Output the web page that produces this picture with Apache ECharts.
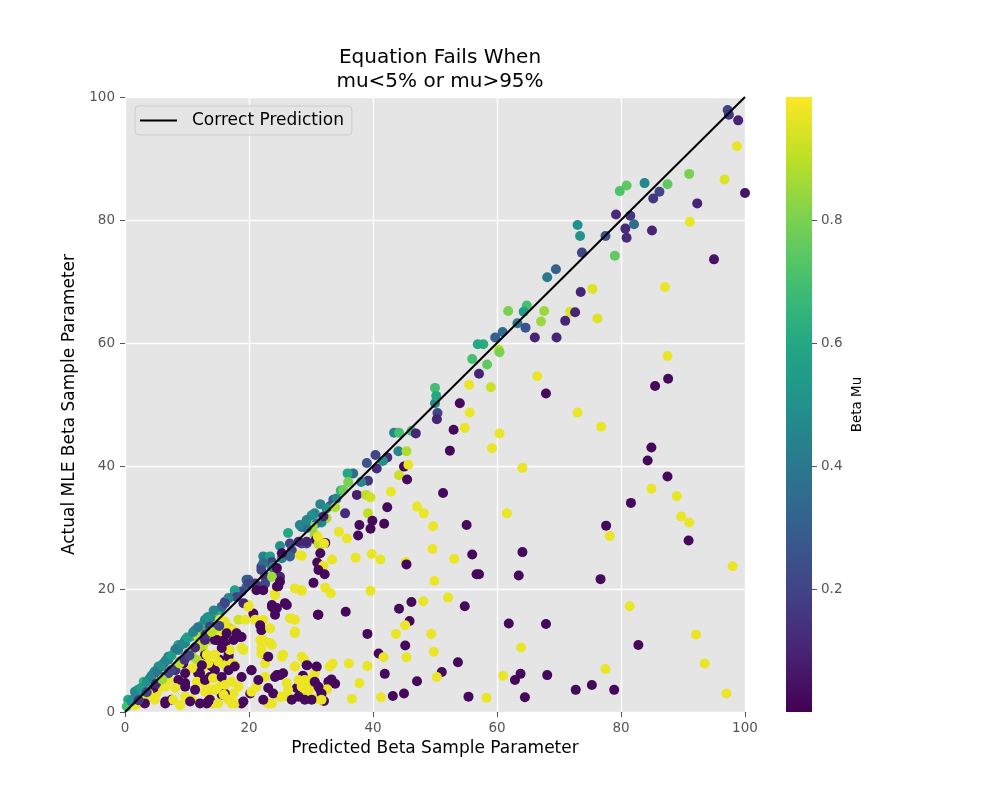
<!DOCTYPE html>
<html>
<head>
<meta charset="utf-8">
<script src="https://cdn.jsdelivr.net/npm/echarts@6/dist/echarts.min.js"></script>
<style>
html,body{margin:0;padding:0;background:#fff;}
#chart{width:1000px;height:800px;}
</style>
</head>
<body>
<div id="chart"></div>
<script>
// ---- text ----
const titleLines = ['Equation Fails When', 'mu<5% or mu>95%'];
const xAxisLabel = 'Predicted Beta Sample Parameter';
const yAxisLabel = 'Actual MLE Beta Sample Parameter';
const colorbarLabel = 'Beta Mu';
const legendLabel = 'Correct Prediction';
const axisTicks = [0, 20, 40, 60, 80, 100];
const colorbarTicks = [0.2, 0.4, 0.6, 0.8];

// ---- data: [predicted, actual, betaMu] ----
const upperRight = [
[97.2,97.9,.2],[97.4,97.1,.15],[98.9,96.2,.1],[98.7,92.0,.97],[91.0,87.5,.8],[96.7,86.6,.95],[100,84.4,.05],
[83.8,86.0,.45],[80.9,85.6,.75],[79.8,84.7,.72],[87.5,85.8,.75],[86.2,84.6,.2],[85.2,83.5,.15],[92.3,82.7,.1],
[91.1,79.7,.97],[79.2,80.9,.12],[81.5,80.7,.15],[82.1,79.3,.35],[80.7,78.6,.12],[80.9,77.1,.12],[85.0,78.3,.1],
[77.5,77.4,.25],[73.0,79.2,.5],[73.4,77.4,.5],[73.7,74.7,.2],[79.0,74.2,.75],[95.0,73.6,.05],[69.5,72.0,.3],
[68.1,70.7,.4],[73.5,68.3,.1],[75.4,68.8,.95],[87.1,69.1,.97]
];
const rightHalf = [
[61.8,65.2,.8],[64.8,66.1,.7],[64.3,65.1,.55],[67.6,65.2,.85],[71.8,65.1,.95],[72.6,65.0,.1],[67.1,63.5,.85],
[71.0,63.6,.1],[76.2,64.0,.95],[63.3,63.2,.4],[64.6,62.5,.25],[60.9,61.8,.35],[59.7,60.9,.3],[66.1,60.9,.1],
[69.6,60.9,.1],[57.8,59.8,.62],[56.9,59.8,.6],[60.3,58.9,.9],[60.4,58.5,.8],[58.4,56.5,.75],[87.5,57.9,.97],
[87.6,54.2,.02],[85.5,53.0,.02],[66.5,54.6,.97],[67.9,51.8,.02],[57.1,55.0,.1],[59.0,52.8,.92],[73.0,48.7,.97],
[76.8,46.4,.97],[60.4,45.3,.97],[59.2,42.9,.97],[84.9,43.0,.02],[84.3,40.9,.02],[64.1,39.7,.97],[87.5,38.3,.02],
[84.9,36.3,.97],[89.0,35.1,.97],[81.6,34.0,.02],[89.7,31.8,.97],[91.0,30.8,.97],[61.6,32.3,.97],[77.6,30.3,.02],
[78.2,28.6,.97],[90.9,27.9,.02],[64.1,26.0,.02],[63.5,22.2,.02],[76.7,21.6,.02],[98.0,23.7,.97],[57.1,22.4,.02],
[81.4,17.2,.97],[61.9,14.4,.02],[67.9,14.3,.02],[92.1,12.6,.97],[63.9,10.5,.97],[82.8,10.9,.02],[93.5,7.9,.97],
[77.5,7.0,.97],[61.0,5.9,.97],[63.8,6.2,.02],[62.9,5.2,.02],[68.1,6.0,.02],[97.0,3.0,.97],[58.3,2.3,.97],
[64.5,2.4,.02],[72.7,3.6,.02],[75.3,4.4,.02],[78.9,3.6,.02]
];
const middle = [
[50.0,50.2,.45],[54.0,50.2,.02],[55.6,48.7,.97],[50.4,48.6,.2],[50.3,47.6,.1],[54.8,46.2,.97],[53.0,45.9,.02],
[52.4,42.5,.02],[43.4,45.4,.45],[44.2,45.4,.7],[46.2,45.7,.7],[46.9,45.3,.1],[44.1,42.4,.45],[45.4,42.4,.88],
[40.4,41.8,.2],[39.0,40.5,.25],[42.3,41.4,.12],[41.6,40.8,.5],[40.6,39.6,.12],[45.0,39.9,.02],[45.7,40.2,.97],
[44.2,38.5,.92],[45.5,37.8,.02],[39.2,37.6,.15],[36.8,38.8,.35],[35.9,38.8,.6],[36.0,37.4,.8],[38.1,37.4,.45],
[42.9,35.8,.97],[51.3,35.6,.02],[37.4,35.3,.08],[38.9,35.3,.9],[39.6,34.9,.93],[33.6,34.5,.3],[34.1,34.7,.45],
[34.8,36.0,.65],[35.2,36.1,.78],[42.3,33.3,.02],[47.1,33.4,.97],[48.2,32.3,.97],[31.5,33.8,.45],[33.1,33.5,.3],
[30.6,32.3,.45],[30.1,32.0,.5],[32.5,33.1,.5],[33.9,33.3,.88],[35.5,32.3,.12],[39.2,32.3,.9],[39.9,31.1,.02],
[41.8,30.6,.02],[37.8,30.4,.02],[39.6,29.8,.02],[37.6,28.7,.02],[49.7,30.2,.97],[55.1,30.4,.02],[35.8,28.2,.97],
[34.5,29.3,.97],[32.5,31.5,.88],[31.7,30.8,.5],[30.9,30.7,.4],[30.3,30.1,.85],[29.3,29.9,.4],[28.5,30.1,.35],
[30.6,28.8,.85],[29.3,27.4,.2],[28.5,27.4,.2],[30.8,28.0,.02],[32.3,27.5,.02],[31.2,27.3,.9],[32.1,27.4,.97],
[31.5,25.8,.02],[31.0,24.3,.02],[31.3,23.8,.02],[32.0,23.8,.97],[33.4,24.8,.97],[37.2,25.1,.97],[39.8,25.7,.97],
[41.2,24.8,.97],[45.3,24.4,.97],[45.4,24.0,.02],[49.6,26.5,.97],[53.1,24.9,.97],[56.0,25.6,.02],[56.7,22.4,.02],
[28.5,25.4,.97],[32.2,22.4,.02],[30.4,21.0,.02],[32.3,20.2,.97],[33.2,19.3,.97],[28.5,19.7,.97],[39.6,19.7,.97],
[49.9,21.3,.97],[31.1,15.8,.02],[35.6,16.3,.02],[44.2,16.8,.02],[46.2,17.9,.02],[48.1,18.0,.97],[52.1,18.6,.97],
[54.8,17.2,.02],[45.9,14.8,.02],[45.2,14.1,.97],[39.1,12.7,.02],[43.7,12.7,.97],[49.4,12.7,.97],[45.2,10.8,.02],
[40.9,9.5,.02],[41.7,8.9,.97],[45.4,8.9,.97],[49.8,9.8,.97],[53.7,8.1,.02],[41.9,6.2,.02],[47.1,5.0,.02],
[51.1,6.5,.02],[50.3,5.7,.97],[36.1,7.9,.97],[39.1,7.5,.97],[33.0,7.4,.97],[33.5,7.9,.97],[30.9,7.3,.02],
[29.4,7.6,.02],[28.5,9.0,.97],[28.9,8.5,.97],[37.8,4.7,.97],[28.7,5.9,.02],[29.0,5.2,.97],[30.6,4.8,.02],
[33.3,5.3,.02],[32.8,4.9,.02],[33.9,4.6,.02],[31.5,3.6,.02],[32.6,3.7,.97],[29.8,3.7,.97],[29.3,2.8,.97],
[30.6,2.1,.97],[31.7,3.0,.02],[32.1,1.8,.02],[30.1,2.0,.02],[28.5,2.5,.97],[36.6,2.1,.97],[41.3,2.4,.97],
[43.2,2.6,.02],[45.0,3.0,.02],[55.4,2.5,.02],[50.0,52.7,.7],[50.2,51.4,.6],[55.5,53.2,.97],[56.0,57.4,.7],
[29.3,31.2,.45],[32.0,31.8,.1],[28.2,30.4,.45],[26.3,29.1,.6],[29.3,27.7,.1],[31.1,28.5,.97],[28.0,27.7,.1],
[26.9,26.3,.2],[28.2,25.5,.97],[31.2,23.1,.02]
];
const lowerLeftMid = [
[25.0,27.0,.5],[26.6,27.4,.2],[22.3,25.3,.45],[23.4,25.3,.55],[25.3,25.0,.45],[26.6,25.3,.3],[22.0,23.6,.2],
[23.7,23.6,.5],[24.2,22.6,.1],[23.5,22.0,.85],[22.6,22.0,.12],[25.0,22.0,.1],[19.9,21.5,.3],[21.0,20.9,.15],
[22.3,20.4,.15],[24.7,20.4,.02],[24.2,19.3,.97],[19.6,20.4,.4],[18.8,19.6,.2],[17.7,19.0,.2],[16.7,18.5,.3],
[16.1,17.9,.2],[15.3,16.6,.45],[14.5,16.3,.65],[13.7,15.5,.5],[12.9,14.7,.45],[12.4,13.6,.65],[12.1,13.1,.85],
[19.9,17.4,.97],[19.1,17.7,.1],[20.7,16.0,.02],[18.3,15.0,.93],[19.4,15.0,.97],[21.0,15.0,.97],[22.3,15.0,.97],
[23.7,17.4,.02],[24.5,16.9,.02],[25.8,17.7,.02],[24.2,15.8,.02],[26.6,15.2,.97],[27.4,15.0,.97],[21.8,14.1,.02],
[22.0,13.3,.02],[23.4,13.6,.97],[27.4,12.8,.97],[16.9,13.6,.9],[17.5,13.3,.97],[16.1,12.5,.02],[17.5,11.7,.02],
[18.8,12.2,.02],[19.1,10.1,.97],[21.8,11.7,.97],[22.0,10.4,.97],[23.4,11.2,.97],[22.9,9.0,.02],[22.6,7.9,.97],
[25.5,9.3,.97],[27.4,7.4,.97],[25.0,6.0,.02],[24.2,5.7,.02],[22.6,5.7,.97],[26.1,4.7,.97],[27.7,3.9,.02],
[30.6,6.3,.97],[29.8,4.7,.97],[28.0,2.5,.02],[26.3,2.5,.97],[25.0,2.5,.97],[23.1,1.4,.97],[23.9,3.0,.02],
[21.2,4.1,.97],[20.4,6.8,.02],[20.2,3.0,.02],[18.8,1.4,.02],[17.5,3.0,.97],[17.7,1.4,.97],[15.6,2.8,.02],
[14.2,1.4,.97],[13.2,1.4,.02],[13.7,5.7,.02],[15.0,3.9,.97],[12.9,4.7,.97],[15.3,8.5,.02],[12.9,7.4,.97],
[16.7,9.3,.02],[17.7,7.6,.97],[16.1,7.6,.97],[14.5,6.8,.02],[13.4,9.0,.97],[13.7,11.7,.88],[12.6,10.6,.93],
[12.9,9.3,.02],[15.6,11.4,.02],[16.1,14.7,.97],[14.8,13.6,.97]
];
const lowerLeftDense = [
[14.8,16.0,.35],[13.4,15.0,.3],[14.2,13.9,.45],[11.3,12.8,.55],[12.4,12.2,.45],[9.7,11.2,.45],[8.6,10.1,.45],
[10.2,9.5,.2],[7.0,8.5,.45],[5.9,7.4,.45],[4.6,6.3,.45],[3.0,4.9,.65],[1.6,3.3,.45],[0.5,2.0,.6],
[12.1,10.6,.88],[10.8,9.0,.88],[11.6,8.5,.88],[9.4,7.9,.02],[8.1,6.8,.02],[7.0,5.2,.97],[5.9,4.1,.97],
[5.1,3.0,.97],[3.2,2.0,.97],[2.1,1.4,.97],[7.5,2.0,.02],[9.7,4.1,.02],[11.8,6.3,.02],[14.0,7.4,.02],
[12.4,5.2,.97],[15.0,8.2,.97],[16.1,11.2,.02],[16.7,9.0,.02],[17.2,7.9,.97],[17.7,7.4,.02],[15.6,5.2,.97],
[14.0,3.6,.97],[16.1,3.0,.02],[18.3,4.1,.97],[18.8,5.7,.02],[20.4,6.8,.02],[21.5,5.2,.02],[23.1,3.9,.02],
[20.4,3.3,.97],[19.1,1.7,.02],[13.4,1.7,.02],[10.8,2.0,.97],[6.5,1.4,.02],[17.2,1.4,.97],[23.7,1.4,.97],
[22.3,2.0,.02],[25.3,2.5,.97],[26.3,3.6,.97],[26.9,2.0,.02],[28.5,4.1,.97],[29.0,2.0,.02],[31.2,4.1,.02],
[31.7,2.0,.97],[22.0,9.5,.97],[22.3,11.7,.97],[23.7,10.9,.97],[23.1,9.0,.02],[24.5,6.0,.02],[25.5,6.3,.02],
[25.3,9.0,.97],[27.4,7.4,.97],[29.3,7.6,.02],[30.9,7.4,.02],[28.0,5.2,.97],[29.8,5.2,.97],[30.6,4.9,.02],
[18.8,10.4,.97],[16.4,13.1,.97],[18.0,12.8,.02],[18.5,12.2,.02],[15.3,13.1,.97],[14.8,11.7,.02],
[19.6,21.5,.3],[19.9,20.9,.2],[22.6,20.9,.2],[21.2,19.8,.02],[22.3,19.8,.02],[28.5,19.8,.97],[17.7,19.8,.55],
[18.0,18.7,.2],[16.7,18.5,.45],[15.6,17.1,.3],[19.9,17.1,.97],[24.2,19.0,.97],[23.7,17.1,.02],[24.2,16.6,.02],
[26.1,17.4,.02],[26.9,15.2,.97],[31.2,15.8,.02],[27.4,13.1,.97],[23.7,24.4,.2],[23.9,23.6,.45],[22.3,24.2,.35],
[24.5,23.4,.02],[22.0,23.1,.2],[23.7,22.0,.85],[25.0,21.2,.02],[24.5,20.4,.02],[25.3,25.8,.02],[27.4,20.1,.97]
];
const lowerLeftCorner = [
[0.3,0.9,.7],[1.3,2.0,.45],[2.1,3.6,.5],[3.0,4.4,.65],[4.0,5.5,.45],[4.8,6.6,.5],[5.4,7.4,.5],[6.2,7.9,.3],
[7.0,9.0,.45],[8.1,10.1,.45],[8.6,10.9,.6],[9.7,11.7,.5],[10.5,12.2,.6],[11.3,13.3,.45],[12.4,14.1,.65],
[12.9,15.0,.45],[14.0,15.5,.45],[14.8,16.3,.65],[15.6,17.1,.35],[16.1,17.7,.2],[7.0,6.3,.2],[8.9,8.2,.3],
[10.8,10.1,.85],[11.6,10.6,.92],[11.8,12.2,.9],[12.9,11.7,.1],[14.5,11.7,.02],[13.7,13.9,.2],[15.3,15.0,.97],
[16.1,13.9,.97],[16.4,12.8,.02],[16.1,11.2,.02],[16.9,10.1,.97],[15.6,10.4,.02],[14.5,9.3,.97],[13.2,9.3,.97],
[13.4,7.9,.97],[12.4,7.6,.02],[12.1,6.3,.02],[10.8,7.1,.97],[9.7,6.3,.02],[8.6,5.2,.02],[9.7,4.7,.02],
[11.6,4.9,.97],[12.9,5.2,.02],[14.2,5.5,.97],[15.6,5.7,.02],[16.7,6.8,.02],[16.1,4.4,.97],[17.2,4.9,.97],
[14.5,3.6,.97],[12.9,3.3,.97],[11.3,3.6,.02],[9.7,2.5,.97],[8.1,3.9,.97],[6.5,4.1,.97],[5.4,4.7,.97],
[4.6,3.9,.02],[3.8,3.0,.97],[2.7,2.2,.97],[1.6,1.1,.97],[3.2,1.4,.02],[4.8,2.0,.97],[6.5,1.7,.02],
[7.8,2.0,.97],[8.9,1.1,.97],[10.5,1.7,.02],[12.1,1.4,.02],[13.7,2.0,.02],[15.0,1.4,.97],[16.7,2.0,.97],
[15.9,2.8,.97],[8.1,6.8,.15],[5.9,5.7,.1],
[1.0,1.8,.5],[2.0,2.9,.45],[2.6,3.9,.55],[3.5,4.9,.5],[4.3,5.9,.45],[5.2,6.6,.4],[5.9,7.6,.5],[6.6,8.4,.45],
[7.5,9.2,.55],[8.3,10.3,.4],[9.2,11.0,.45],[10.0,12.1,.55],[11.0,13.0,.45],[11.8,13.8,.4],[13.3,15.4,.5],
[14.3,16.5,.45],[2.2,1.9,.15],[3.5,3.2,.2],[5.0,4.6,.1],[6.0,5.3,.85],[7.4,6.8,.2],[8.8,7.9,.9],[9.6,8.5,.15],
[10.4,9.2,.2],[11.3,10.5,.12],[13.0,12.6,.15],[14.0,13.0,.9],[15.2,14.0,.2]
];
const idealLine = [[0, 0], [100, 100]];

const viridis = ['#440154','#482475','#414487','#355f8d','#2a788e','#21918c','#22a884','#44bf70','#7ad151','#bddf26','#fde725'];

const points = [].concat(upperRight, rightHalf, middle, lowerLeftMid, lowerLeftDense, lowerLeftCorner);

const chart = echarts.init(document.getElementById('chart'));
const FONT = 'DejaVu Sans';

const option = {
  animation: false,
  backgroundColor: '#ffffff',
  textStyle: { fontFamily: FONT },
  title: {
    text: titleLines.join('\n'),
    left: 435,
    top: 41,
    textAlign: 'center',
    textStyle: { fontFamily: FONT, fontSize: 20, fontWeight: 'normal', color: '#000', lineHeight: 24 }
  },
  grid: [
    { left: 125, top: 97, width: 620, height: 615, show: true, backgroundColor: '#E5E5E5', borderWidth: 0 },
    { left: 786, top: 97, width: 26, height: 615, show: false }
  ],
  legend: {
    data: [{ name: legendLabel, icon: 'rect' }],
    left: 135,
    top: 106,
    itemWidth: 37,
    itemHeight: 2,
    padding: [6, 8, 6, 5],
    backgroundColor: 'rgba(229,229,229,0.8)',
    borderColor: '#cccccc',
    borderWidth: 1,
    borderRadius: 4,
    textStyle: { fontFamily: FONT, fontSize: 17, color: '#000', padding: [0, 0, 0, 10] }
  },
  visualMap: {
    show: false,
    type: 'continuous',
    min: 0,
    max: 1,
    dimension: 2,
    seriesIndex: 0,
    inRange: { color: viridis }
  },
  xAxis: [
    {
      type: 'value', gridIndex: 0, min: 0, max: 100, interval: 20,
      name: xAxisLabel, nameLocation: 'middle', nameGap: 28,
      nameTextStyle: { fontFamily: FONT, fontSize: 17, color: '#000' },
      axisLine: { show: false },
      axisTick: { show: true, length: 5, customValues: axisTicks, lineStyle: { color: '#555', width: 1 } },
      axisLabel: { color: '#555', fontSize: 13.5, margin: 9, customValues: axisTicks },
      splitLine: { show: true, lineStyle: { color: '#ffffff', width: 1.3 } }
    },
    { type: 'category', gridIndex: 1, data: ['c'], show: false }
  ],
  yAxis: [
    {
      type: 'value', gridIndex: 0, min: 0, max: 100, interval: 20,
      name: yAxisLabel, nameLocation: 'middle', nameGap: 44,
      nameTextStyle: { fontFamily: FONT, fontSize: 17, color: '#000' },
      axisLine: { show: false },
      axisTick: { show: true, length: 5, customValues: axisTicks, lineStyle: { color: '#555', width: 1 } },
      axisLabel: { color: '#555', fontSize: 13.5, margin: 10, customValues: axisTicks },
      splitLine: { show: true, lineStyle: { color: '#ffffff', width: 1.3 } }
    },
    {
      type: 'value', gridIndex: 1, min: 0, max: 1, interval: 0.2, position: 'right',
      name: colorbarLabel, nameLocation: 'middle', nameRotate: 90, nameGap: 38,
      nameTextStyle: { fontFamily: FONT, fontSize: 13.5, color: '#000' },
      axisLine: { show: false },
      axisTick: { show: true, length: 5, customValues: colorbarTicks, lineStyle: { color: '#555', width: 1 } },
      axisLabel: { color: '#555', fontSize: 13.5, margin: 9, customValues: colorbarTicks,
        formatter: v => Number(v).toFixed(1) },
      splitLine: { show: false }
    }
  ],
  series: [
    {
      type: 'scatter',
      xAxisIndex: 0, yAxisIndex: 0,
      data: points,
      symbolSize: 10,
      itemStyle: { opacity: 1 },
      z: 2,
      silent: true
    },
    {
      name: legendLabel,
      type: 'line',
      xAxisIndex: 0, yAxisIndex: 0,
      data: idealLine,
      symbol: 'none',
      lineStyle: { color: '#000', width: 2 },
      itemStyle: { color: '#000' },
      z: 5,
      silent: true
    },
    {
      type: 'bar',
      xAxisIndex: 1, yAxisIndex: 1,
      data: [1],
      barWidth: '100%',
      silent: true,
      itemStyle: {
        color: {
          type: 'linear', x: 0, y: 1, x2: 0, y2: 0,
          colorStops: viridis.map((c, i) => ({ offset: i / (viridis.length - 1), color: c }))
        }
      }
    }
  ]
};
chart.setOption(option);
</script>
</body>
</html>
